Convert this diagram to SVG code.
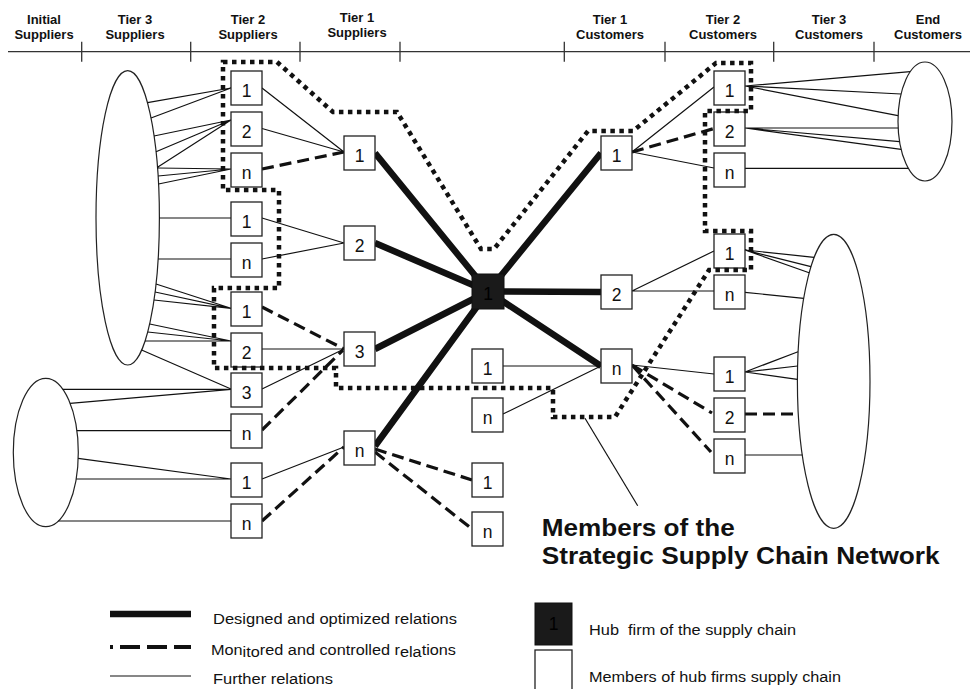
<svg xmlns="http://www.w3.org/2000/svg" width="970" height="689" viewBox="0 0 970 689">
<style>
.thin{stroke:#111;stroke-width:1.2;fill:none}
.dash{stroke:#111;stroke-width:3.2;stroke-dasharray:12 6;fill:none}
.thick{stroke:#111;stroke-width:6.5;fill:none}
.member{stroke:#111;stroke-width:4.5;stroke-dasharray:4.5 4.5;fill:none}
.ax{stroke:#333;stroke-width:1.3;fill:none}
.box{fill:#fff;stroke:#222;stroke-width:1.3}
.ell{fill:#fff;stroke:#222;stroke-width:1.2}
.lbl{font-family:"Liberation Sans",Arial,sans-serif;font-size:17.5px;text-anchor:middle;fill:#111}
.hdr{font-family:"Liberation Sans",Arial,sans-serif;font-weight:bold;font-size:13px;text-anchor:middle;fill:#111}
.big{font-family:"Liberation Sans",Arial,sans-serif;font-weight:bold;font-size:24px;fill:#111}
.leg{font-family:"Liberation Sans",Arial,sans-serif;font-size:15.5px;fill:#111;white-space:pre}
</style>
<rect width="970" height="689" fill="#fff"/>

<g id="header">
<line class="ax" x1="8" y1="51.7" x2="970" y2="51.7"/>
<path class="ax" d="M81.7,41.7V61.7M190.7,41.7V61.7M300,41.7V61.7M400,41.7V61.7M564.3,41.7V61.7M665,41.7V61.7M773.7,41.7V61.7M874,41.7V61.7"/>
<text class="hdr" x="44" y="24">Initial</text><text class="hdr" x="44" y="39.3">Suppliers</text>
<text class="hdr" x="135" y="24">Tier 3</text><text class="hdr" x="135" y="39.3">Suppliers</text>
<text class="hdr" x="248" y="24">Tier 2</text><text class="hdr" x="248" y="39.3">Suppliers</text>
<text class="hdr" x="357" y="21.7">Tier 1</text><text class="hdr" x="357" y="36.7">Suppliers</text>
<text class="hdr" x="610" y="24">Tier 1</text><text class="hdr" x="610" y="39.3">Customers</text>
<text class="hdr" x="723" y="24">Tier 2</text><text class="hdr" x="723" y="39.3">Customers</text>
<text class="hdr" x="829" y="24">Tier 3</text><text class="hdr" x="829" y="39.3">Customers</text>
<text class="hdr" x="928" y="24">End</text><text class="hdr" x="928" y="39.3">Customers</text>
</g>

<g id="tier3-suppliers"><ellipse class="ell" cx="127.7" cy="217.8" rx="31.7" ry="147.2"/></g>
<g id="initial-suppliers"><ellipse class="ell" cx="45.8" cy="452.5" rx="32.5" ry="74.2"/></g>
<g id="end-customers"><ellipse class="ell" cx="925" cy="121.5" rx="27" ry="59.5"/></g>
<g id="tier3-customers"><ellipse class="ell" cx="833.7" cy="381.3" rx="36.3" ry="147"/></g>

<g id="connectors">
<path class="thin" d="M147.5,102.7L231,88M151,118L231,88M154,136L231,120M156,151.7L231,120M157.5,167.3L231,120M157.5,168L231,169M158.1,176L231,169M158.5,184L231,169M159.4,218H231M158.1,259H231M156,284L231,308.3M155.1,292L231,308.3M154,300L231,308.3M149.7,324L231,341M147.7,332L231,341M145,341L231,341M141.6,350L231,389"/>
<path class="thin" d="M62.8,389.3L231,389.3M70.1,403.3L231,389.3M76.9,430.7H231M78.1,458.3L231,479M76.2,479H231M58.3,521H231"/>
<path class="thin" d="M262,88L344,152M262,128.5L344,152M262,218L344,243M262,259L344,243M262,349H344M262,389L344,349M262,479L344,447"/>
<path class="dash" d="M262,169L344,152M262,307L344,349M262,430L343,350M262,521L344,447"/>
<path class="thick" d="M375,153L488,291.5M375,243L488,291.5M375,349L488,291.5M375,446L488,291.5M601,153L488,291.5M601,292L488,291.5M601,366L488,291.5"/>
<path class="dash" d="M375,449L472,480M375,452L472,529"/>
<path class="thin" d="M503,366H601M503,414L601,366"/>
<path class="thin" d="M632,152L714,87M632,152L714,168M632,291L714,251M632,291H714M632,365L714,374"/>
<path class="dash" d="M632,152L714,128.5M632,365L712,413M632,365L711,452"/>
<path class="thin" d="M745,86L910.2,71.7M745,86L901,94M745,86L898,115.7M745,128L898,128M745,128L899.6,141.7M745,128L901.1,149.3M745,168.3H908.3"/>
<path class="thin" d="M745,250L814,257.3M745,250L810.9,266.7M745,250L809.1,272.7M745,292.3L803.7,298.3M745,372L798,351.7M745,372L797.6,366M745,372L797.3,379.3M745,455L802.3,455"/>
<path class="dash" d="M745,414H797.5"/>
<line class="thin" x1="585" y1="418.3" x2="637.7" y2="505.7"/>
</g>

<g id="s2a"><rect class="box" x="231" y="71" width="31" height="34"/><text class="lbl" x="246.5" y="96.5">1</text></g>
<g id="s2b"><rect class="box" x="231" y="112" width="31" height="34"/><text class="lbl" x="246.5" y="137.5">2</text></g>
<g id="s2c"><rect class="box" x="231" y="153" width="31" height="34"/><text class="lbl" x="246.5" y="178.5">n</text></g>
<g id="s2d"><rect class="box" x="231" y="202" width="31" height="34"/><text class="lbl" x="246.5" y="227.5">1</text></g>
<g id="s2e"><rect class="box" x="231" y="243" width="31" height="34"/><text class="lbl" x="246.5" y="268.5">n</text></g>
<g id="s2f"><rect class="box" x="231" y="292" width="31" height="34"/><text class="lbl" x="246.5" y="317.5">1</text></g>
<g id="s2g"><rect class="box" x="231" y="333" width="31" height="34"/><text class="lbl" x="246.5" y="358.5">2</text></g>
<g id="s2h"><rect class="box" x="231" y="373" width="31" height="34"/><text class="lbl" x="246.5" y="398.5">3</text></g>
<g id="s2i"><rect class="box" x="231" y="414" width="31" height="34"/><text class="lbl" x="246.5" y="439.5">n</text></g>
<g id="s2j"><rect class="box" x="231" y="463" width="31" height="34"/><text class="lbl" x="246.5" y="488.5">1</text></g>
<g id="s2k"><rect class="box" x="231" y="504" width="31" height="34"/><text class="lbl" x="246.5" y="529.5">n</text></g>

<g id="s1a"><rect class="box" x="344" y="136" width="31" height="34"/><text class="lbl" x="359.5" y="161.5">1</text></g>
<g id="s1b"><rect class="box" x="344" y="226" width="31" height="34"/><text class="lbl" x="359.5" y="251.5">2</text></g>
<g id="s1c"><rect class="box" x="344" y="332" width="31" height="34"/><text class="lbl" x="359.5" y="357.5">3</text></g>
<g id="s1d"><rect class="box" x="344" y="431" width="31" height="34"/><text class="lbl" x="359.5" y="456.5">n</text></g>

<g id="hub"><rect x="472" y="274" width="32" height="35" fill="#1a1a1a" stroke="#111" stroke-width="1"/><text class="lbl" x="488" y="299.5" style="fill:#000">1</text></g>

<g id="m1"><rect class="box" x="472" y="349" width="31" height="34"/><text class="lbl" x="487.5" y="374.5">1</text></g>
<g id="m2"><rect class="box" x="472" y="398" width="31" height="34"/><text class="lbl" x="487.5" y="423.5">n</text></g>
<g id="m3"><rect class="box" x="472" y="463" width="31" height="34"/><text class="lbl" x="487.5" y="488.5">1</text></g>
<g id="m4"><rect class="box" x="472" y="512" width="31" height="34"/><text class="lbl" x="487.5" y="537.5">n</text></g>

<g id="c1a"><rect class="box" x="601" y="136" width="31" height="34"/><text class="lbl" x="616.5" y="161.5">1</text></g>
<g id="c1b"><rect class="box" x="601" y="275" width="31" height="34"/><text class="lbl" x="616.5" y="300.5">2</text></g>
<g id="c1c"><rect class="box" x="601" y="349" width="31" height="34"/><text class="lbl" x="616.5" y="374.5">n</text></g>

<g id="c2a"><rect class="box" x="714" y="71" width="31" height="34"/><text class="lbl" x="729.5" y="96.5">1</text></g>
<g id="c2b"><rect class="box" x="714" y="112" width="31" height="34"/><text class="lbl" x="729.5" y="137.5">2</text></g>
<g id="c2c"><rect class="box" x="714" y="153" width="31" height="34"/><text class="lbl" x="729.5" y="178.5">n</text></g>
<g id="c2d"><rect class="box" x="714" y="234" width="31" height="34"/><text class="lbl" x="729.5" y="259.5">1</text></g>
<g id="c2e"><rect class="box" x="714" y="275" width="31" height="34"/><text class="lbl" x="729.5" y="300.5">n</text></g>
<g id="c2f"><rect class="box" x="714" y="357" width="31" height="34"/><text class="lbl" x="729.5" y="382.5">1</text></g>
<g id="c2g"><rect class="box" x="714" y="398" width="31" height="34"/><text class="lbl" x="729.5" y="423.5">2</text></g>
<g id="c2h"><rect class="box" x="714" y="439" width="31" height="34"/><text class="lbl" x="729.5" y="464.5">n</text></g>

<g id="members-outline">
<path class="member" d="M223,62L277,62L333,112L397,112L481,249L494,249L588,131L633,131L716,63L751,63L751,111L705,111L705,231L751,231L751,270L709,270L615,417L553,417L553,388L336,388L336,368L214,368L214,288L279,288L279,190L223,190Z"/>
</g>

<g id="members-label">
<text class="big" x="541.7" y="536" textLength="193" lengthAdjust="spacingAndGlyphs">Members of the</text>
<text class="big" x="541.7" y="564.3" textLength="398" lengthAdjust="spacingAndGlyphs">Strategic Supply Chain Network</text>
</g>

<g id="legend">
<line class="thick" x1="110" y1="614" x2="191" y2="614"/>
<line x1="110" y1="647" x2="191" y2="647" stroke="#111" stroke-width="4" stroke-dasharray="20 7" stroke-dashoffset="17"/>
<line class="thin" x1="110" y1="676" x2="191" y2="676"/>
<text class="leg" x="213" y="624" textLength="244" lengthAdjust="spacingAndGlyphs">Designed and optimized relations</text>
<text class="leg" x="211" y="655" textLength="245" lengthAdjust="spacingAndGlyphs">Mon<tspan dy="2">ito</tspan><tspan dy="-2">red and controlled r</tspan><tspan dy="2">ela</tspan><tspan dy="-2">tions</tspan></text>
<text class="leg" x="213" y="684" textLength="120" lengthAdjust="spacingAndGlyphs">Further relations</text>
<rect x="535" y="603" width="37" height="42" fill="#1a1a1a" stroke="#111" stroke-width="1"/>
<text class="lbl" x="553.5" y="630" style="fill:#000">1</text>
<rect class="box" x="535" y="650" width="37" height="50"/>
<text class="leg" x="589" y="635" textLength="207" lengthAdjust="spacingAndGlyphs">Hub  firm of the supply chain</text>
<text class="leg" x="589" y="681.7" textLength="252" lengthAdjust="spacingAndGlyphs">Members of hub firms supply chain</text>
</g>
</svg>
